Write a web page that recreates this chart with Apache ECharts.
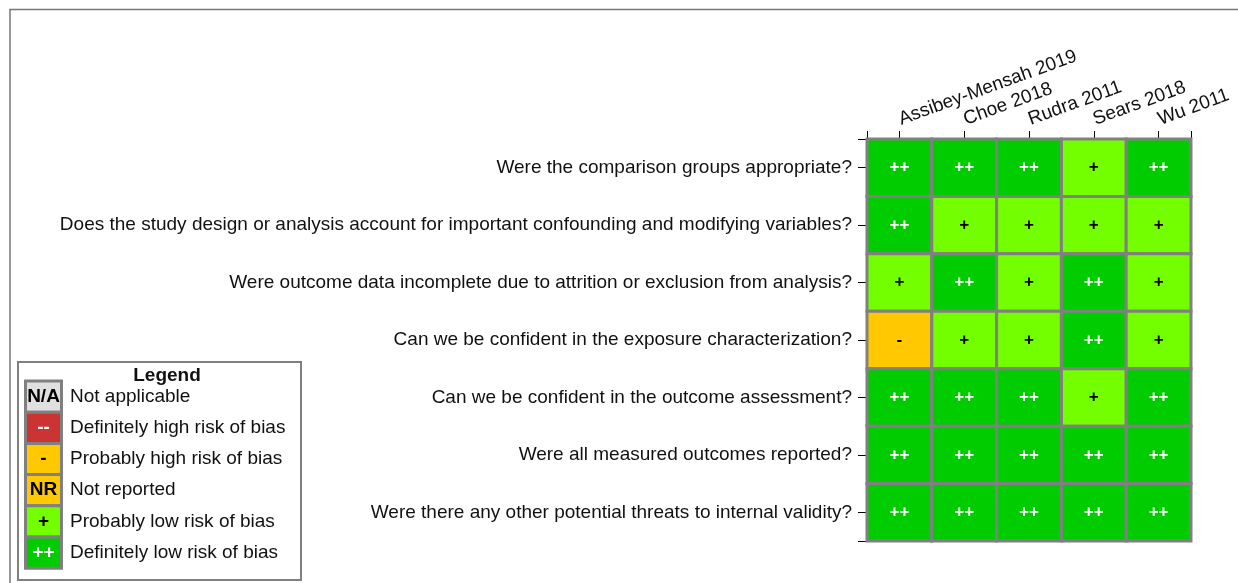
<!DOCTYPE html>
<html>
<head>
<meta charset="utf-8">
<script src="https://cdn.jsdelivr.net/npm/echarts@6/dist/echarts.min.js"></script>
<style>
  html, body { margin: 0; padding: 0; background: #fff; }
  #chart { width: 1238px; height: 583px; }
</style>
</head>
<body>
<div id="chart"></div>
<script>
// studies (columns) and questions (rows, top to bottom)
const studies = ['Assibey-Mensah 2019', 'Choe 2018', 'Rudra 2011', 'Sears 2018', 'Wu 2011']
const questions = [
  'Were the comparison groups appropriate?',
  'Does the study design or analysis account for important confounding and modifying variables?',
  'Were outcome data incomplete due to attrition or exclusion from analysis?',
  'Can we be confident in the exposure characterization?',
  'Can we be confident in the outcome assessment?',
  'Were all measured outcomes reported?',
  'Were there any other potential threats to internal validity?'
]

// ratings per study, one per question
const assibeyMensah2019 = ['++', '++', '+', '-', '++', '++', '++']
const choe2018 = ['++', '+', '++', '+', '++', '++', '++']
const rudra2011 = ['++', '+', '+', '+', '++', '++', '++']
const sears2018 = ['+', '+', '++', '++', '+', '++', '++']
const wu2011 = ['++', '+', '+', '+', '++', '++', '++']
const ratings = [assibeyMensah2019, choe2018, rudra2011, sears2018, wu2011]

// rating scale used by the legend
const scaleCodes = ['N/A', '--', '-', 'NR', '+', '++']
const scaleLabels = [
  'Not applicable',
  'Definitely high risk of bias',
  'Probably high risk of bias',
  'Not reported',
  'Probably low risk of bias',
  'Definitely low risk of bias'
]

// tick positions: cell centres plus the two ends of each axis
const colTicks = [-0.5, 0, 1, 2, 3, 4, 4.5]
const rowTicks = [-0.5, 0, 1, 2, 3, 4, 5, 6, 6.5]

const fills = { 'N/A': '#e0e0e0', '--': '#cc3333', '-': '#ffc800', 'NR': '#ffc800', '+': '#73ff00', '++': '#00cc00' }
const inks = { 'N/A': '#000', '--': '#fff', '-': '#000', 'NR': '#000', '+': '#000', '++': '#fff' }
const FONT = '"Liberation Sans", Arial, sans-serif'

const cells = []
ratings.forEach((col, i) => {
  col.forEach((r, j) => cells.push([i, j, r]))
})

const chart = echarts.init(document.getElementById('chart'))

// legend drawn by hand, like the original figure
const legendItems = []
const lx = 24, ly = 381, rowH = 31.2
scaleCodes.forEach((code, k) => {
  legendItems.push({
    type: 'rect',
    shape: { x: lx + 1.5, y: ly + k * rowH, width: 36, height: rowH },
    style: { fill: fills[code], stroke: '#808080', lineWidth: 3 },
    z: 10
  })
  legendItems.push({
    type: 'text',
    x: lx + 19.5, y: ly + k * rowH + rowH / 2,
    style: { text: code, fill: inks[code], font: 'bold 19px ' + FONT, align: 'center', verticalAlign: 'middle' },
    z: 11
  })
  legendItems.push({
    type: 'text',
    x: 70, y: ly + k * rowH + rowH / 2,
    style: { text: scaleLabels[k], fill: '#111', font: '19px ' + FONT, align: 'left', verticalAlign: 'middle' },
    z: 11
  })
})

chart.setOption({
  animation: false,
  backgroundColor: '#fff',
  grid: { left: 867, right: 47, top: 139, bottom: 42 },
  graphic: [
    // outer frame (top and left only)
    { type: 'polyline', shape: { points: [[10, 583], [10, 9.5], [1238, 9.5]] }, style: { stroke: '#777', lineWidth: 1.5, fill: null } },
    { type: 'rect', shape: { x: 18, y: 362, width: 283, height: 218 }, style: { fill: '#fff', stroke: '#808080', lineWidth: 2 }, z: 9 },
    { type: 'text', x: 167, y: 376, style: { text: 'Legend', font: 'bold 19px ' + FONT, fill: '#111', align: 'center', verticalAlign: 'middle' }, z: 11 },
    ...legendItems
  ],
  xAxis: {
    type: 'value',
    position: 'top',
    min: -0.5,
    max: 4.5,
    splitLine: { show: false },
    axisLine: { show: true, onZero: false, lineStyle: { color: 'rgba(0,0,0,0)' } },
    axisTick: { show: true, length: 8, customValues: colTicks, lineStyle: { color: '#000', width: 1 } },
    axisLabel: {
      customValues: [0, 1, 2, 3, 4],
      rotate: -20,
      margin: 19,
      fontSize: 19,
      fontFamily: FONT,
      color: '#111',
      formatter: v => studies[Math.round(v)]
    }
  },
  yAxis: {
    type: 'value',
    inverse: true,
    min: -0.5,
    max: 6.5,
    splitLine: { show: false },
    axisLine: { show: true, onZero: false, lineStyle: { color: 'rgba(0,0,0,0)' } },
    axisTick: { show: true, length: 9, customValues: rowTicks, lineStyle: { color: '#000', width: 1 } },
    axisLabel: {
      customValues: [0, 1, 2, 3, 4, 5, 6],
      margin: 15,
      fontSize: 19,
      fontFamily: FONT,
      color: '#111',
      formatter: v => questions[Math.round(v)]
    }
  },
  series: [
    {
      type: 'custom',
      data: cells,
      renderItem: (params, api) => {
        const c = api.value(0)
        const r = api.value(1)
        const code = ratings[c][r]
        const p0 = api.coord([c - 0.5, r - 0.5])
        const p1 = api.coord([c + 0.5, r + 0.5])
        const x = Math.min(p0[0], p1[0])
        const y = Math.min(p0[1], p1[1])
        const w = Math.abs(p1[0] - p0[0])
        const h = Math.abs(p1[1] - p0[1])
        return {
          type: 'group',
          children: [
            { type: 'rect', shape: { x, y, width: w, height: h }, style: { fill: fills[code], stroke: '#808080', lineWidth: 3 } },
            { type: 'text', x: x + w / 2, y: y + h / 2, style: { text: code, fill: inks[code], font: 'bold 17px ' + FONT, align: 'center', verticalAlign: 'middle' } }
          ]
        }
      }
    }
  ]
})
</script>
</body>
</html>
